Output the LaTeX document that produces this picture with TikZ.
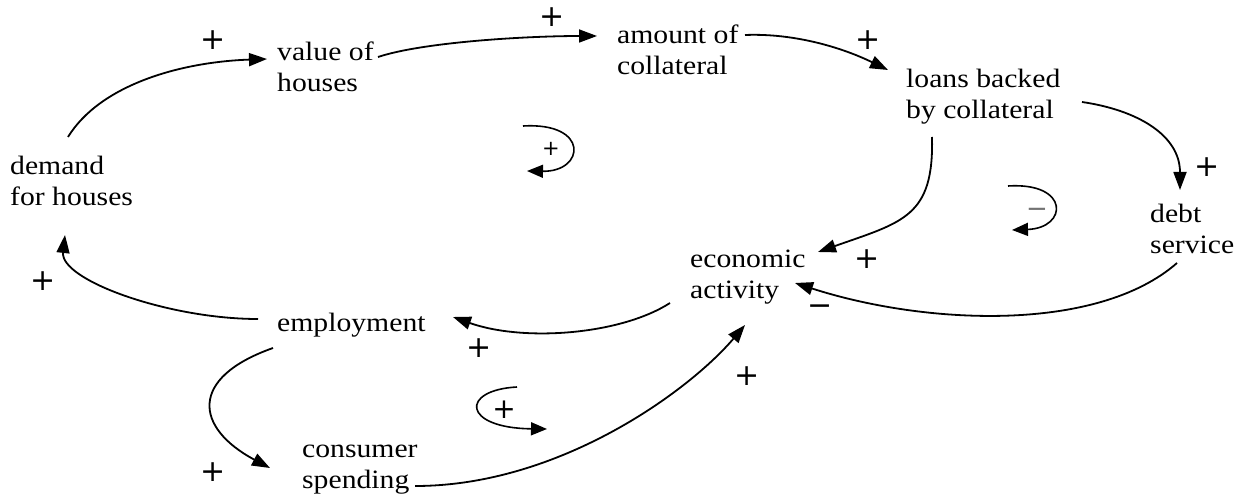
\documentclass[tikz,border=0pt]{standalone}
\usepackage{fontspec}
\setmainfont{Liberation Serif}[FakeStretch=1.12]
\newfontfamily\signfont{DejaVu Sans}
\usetikzlibrary{arrows.meta,calc}
\tikzset{
  var/.style={align=left, inner sep=0pt, anchor=west, font={\fontsize{26.5}{31}\selectfont}},
  link/.style={line width=1.8pt, -{Triangle[length=18pt,width=13pt]}},
  loopln/.style={line width=1.6pt, -{Triangle[length=16pt,width=13pt]}},
  sign/.style={inner sep=0pt, font={\signfont\fontsize{30}{30}\selectfont}},
  lsign/.style={inner sep=0pt, font={\signfont\fontsize{21}{21}\selectfont}},
}
\begin{document}
\begin{tikzpicture}[x=1pt,y=-1pt]
\useasboundingbox (0,0) rectangle (1247,497);
% variables
\node[var] (vh)  at (277,70)    {\strut value of\\\strut houses};
\node[var] (ac)  at (617,52.5)  {\strut amount of\\\strut collateral};
\node[var] (lb)  at (906,97)    {\strut loans backed\\\strut by collateral};
\node[var] (dem) at (10,183.5)  {\strut demand\\\strut for houses};
\node[var] (ea)  at (690,276.5) {\strut economic\\\strut activity};
\node[var] (ds)  at (1150,232)  {\strut debt\\\strut service};
\node[var] (emp) at (277,325)   {\strut employment};
\node[var] (cs)  at (302,466.5) {\strut consumer\\\strut spending};
% links
\draw[link] ($(dem.west)+(58,-46.5)$) .. controls +(32,-52) and +(-87,3) .. ($(vh.west)+(-10,-11)$);
\draw[link] ($(vh.west)+(101,-13)$) .. controls +(45,-15) and +(-70,0) .. ($(ac.west)+(-20,-16.5)$);
\draw[link] ($(ac.west)+(128,-17.5)$) .. controls +(50,-2) and +(-45,-22) .. ($(lb.west)+(-18,-27)$);
\draw[link] ($(lb.west)+(176,5)$) .. controls +(55,8) and +(0,-55) .. ($(ds.west)+(30,-42)$);
\draw[link] ($(ds.west)+(27,31)$) .. controls +(-80,70) and +(130,42) .. ($(ea.west)+(105,6.5)$);
\draw[link] ($(lb.west)+(26,40)$) .. controls +(2,80) and +(85,-30) .. ($(ea.west)+(128,-24.5)$);
\draw[link] ($(ea.west)+(-20,26.5)$) .. controls +(-50,32) and +(70,25) .. ($(emp.west)+(176,-8)$);
\draw[link] ($(emp.west)+(-19,-6)$) .. controls +(-90,0) and +(-5,45) .. ($(dem.west)+(55,51.5)$);
\draw[link] ($(emp.west)+(-4,23)$) .. controls +(-85,30) and +(-75,-40) .. ($(cs.west)+(-32,1.5)$);
\draw[link] ($(cs.west)+(113,19.5)$) .. controls +(145,0) and +(-55,65) .. ($(ea.west)+(55,48.5)$);
% link polarities
\node[sign] (p1) at (213,40) {+};
\node[sign] (p2) at (552,17) {+};
\node[sign] (p3) at (868,40) {+};
\node[sign] (p4) at (1207,167) {+};
\node[sign] (p5) at (820,310) {−};
\node[sign] (p6) at (867,259) {+};
\node[sign] (p7) at (479,348) {+};
\node[sign] (p8) at (43,281) {+};
\node[sign] (p9) at (213,472) {+};
\node[sign] (p10) at (747,376) {+};
% loop markers
\draw[loopln] (523,126) .. controls (590,122) and (585,172) .. (527,171);
\node[lsign] (l1) at (551,149) {+};
\draw[loopln] (1008,186) .. controls (1070,182) and (1068,228) .. (1012,230);
\node[lsign, text=black!55, font={\signfont\fontsize{26}{26}\selectfont}] (l2) at (1037,213) {−};
\draw[loopln] (517,387) .. controls (460,390) and (462,428) .. (547,429);
\node[lsign, font={\signfont\fontsize{28}{28}\selectfont}] (l3) at (504,410) {+};
\end{tikzpicture}
\end{document}
